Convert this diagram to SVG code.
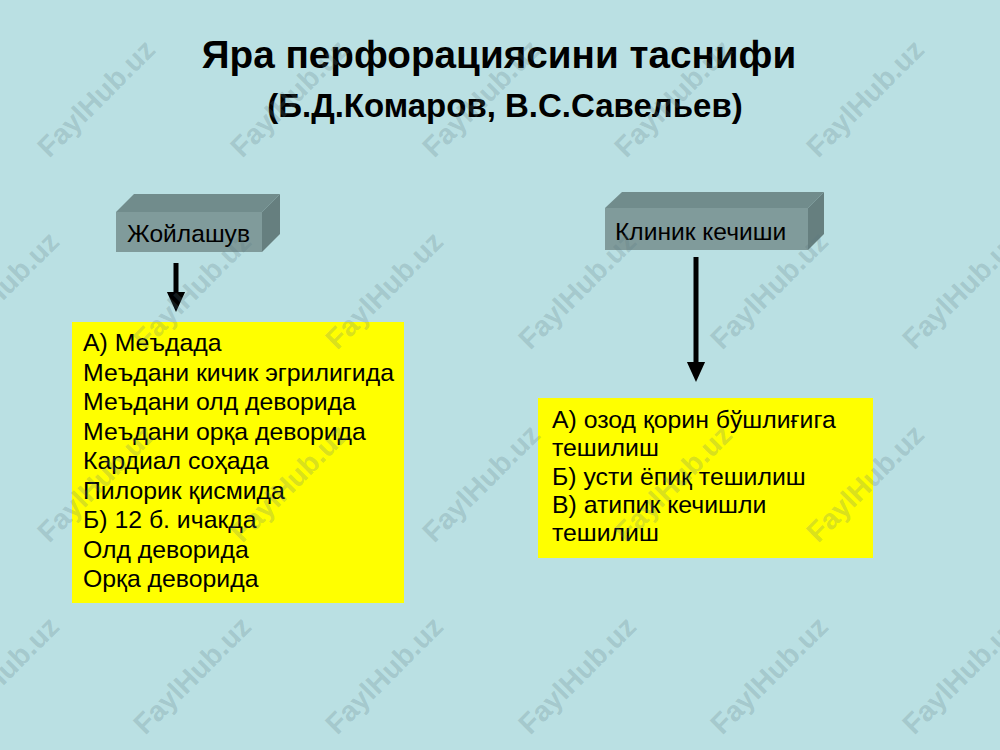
<svg xmlns="http://www.w3.org/2000/svg" width="1000" height="750" viewBox="0 0 1000 750">
<defs>
<style>
.title{font-family:"Liberation Sans",Arial,sans-serif;font-weight:bold;fill:#000;text-anchor:middle}
.lbl{font-family:"Liberation Sans",Arial,sans-serif;font-size:24.6px;fill:#000}
.body{font-family:"Liberation Sans",Arial,sans-serif;font-size:24.8px;fill:#000}
.front{fill:#809b9b}
.top{fill:#718c8c}
.side{fill:#667f7f}
.ybox{fill:#ffff00}
.wm{font-family:"Liberation Sans",Arial,sans-serif;font-weight:bold;font-size:28.5px;fill:#5a7a80;fill-opacity:0.24;text-anchor:middle}
.conn{stroke:#000;stroke-width:5;fill:none}
</style>
<marker id="ah" markerUnits="userSpaceOnUse" markerWidth="20" markerHeight="22" refX="0" refY="10" orient="auto" viewBox="0 0 22 20">
<path d="M0,0 L22,10 L0,20 Z" fill="#000"/>
</marker>
</defs>
<rect x="0" y="0" width="1000" height="750" fill="#bae0e3"/>

<g id="title">
<text class="title" x="499" y="68" font-size="38.7">Яра перфорациясини таснифи</text>
<text class="title" x="505" y="117" font-size="33">(Б.Д.Комаров, В.С.Савельев)</text>
</g>

<g id="node-joylashuv">
<polygon class="top" points="116,212 134,194 280,194 262,212"/>
<polygon class="side" points="262,212 280,194 280,234 262,252"/>
<rect class="front" x="116" y="212" width="146" height="40"/>
<text class="lbl" x="127" y="242">Жойлашув</text>
</g>

<g id="node-klinik">
<polygon class="top" points="605,208 622,192 824,192 808,208"/>
<polygon class="side" points="808,208 824,192 824,234 808,250"/>
<rect class="front" x="605" y="208" width="203" height="42"/>
<text class="lbl" x="615" y="240">Клиник кечиши</text>
</g>

<g id="node-left-list">
<rect class="ybox" x="72" y="322" width="332" height="281"/>
<text class="body" x="83" y="351">А) Меъдада</text>
<text class="body" x="83" y="380.5">Меъдани кичик эгрилигида</text>
<text class="body" x="83" y="410">Меъдани олд деворида</text>
<text class="body" x="83" y="439.5">Меъдани орқа деворида</text>
<text class="body" x="83" y="469">Кардиал соҳада</text>
<text class="body" x="83" y="498.5">Пилорик қисмида</text>
<text class="body" x="83" y="528">Б) 12 б. ичакда</text>
<text class="body" x="83" y="557.5">Олд деворида</text>
<text class="body" x="83" y="587">Орқа деворида</text>
</g>

<g id="node-right-list">
<rect class="ybox" x="538" y="398" width="335" height="160"/>
<text class="body" x="552" y="428">А) озод қорин бўшлиғига</text>
<text class="body" x="552" y="456">тешилиш</text>
<text class="body" x="552" y="484.5">Б) усти ёпиқ тешилиш</text>
<text class="body" x="552" y="513">В) атипик кечишли</text>
<text class="body" x="552" y="541">тешилиш</text>
</g>

<g id="connectors">
<line class="conn" x1="176" y1="263" x2="176" y2="292" marker-end="url(#ah)"/>
<line class="conn" x1="696" y1="257" x2="696" y2="362" marker-end="url(#ah)"/>
</g>

<g id="watermarks">
<text class="wm" transform="translate(96,98) rotate(-45)" y="10">FaylHub.uz</text>
<text class="wm" transform="translate(289,98) rotate(-45)" y="10">FaylHub.uz</text>
<text class="wm" transform="translate(481,98) rotate(-45)" y="10">FaylHub.uz</text>
<text class="wm" transform="translate(673,98) rotate(-45)" y="10">FaylHub.uz</text>
<text class="wm" transform="translate(865,98) rotate(-45)" y="10">FaylHub.uz</text>
<text class="wm" transform="translate(0,290) rotate(-45)" y="10">FaylHub.uz</text>
<text class="wm" transform="translate(192,290) rotate(-45)" y="10">FaylHub.uz</text>
<text class="wm" transform="translate(384,290) rotate(-45)" y="10">FaylHub.uz</text>
<text class="wm" transform="translate(577,290) rotate(-45)" y="10">FaylHub.uz</text>
<text class="wm" transform="translate(769,290) rotate(-45)" y="10">FaylHub.uz</text>
<text class="wm" transform="translate(961,290) rotate(-45)" y="10">FaylHub.uz</text>
<text class="wm" transform="translate(96,483) rotate(-45)" y="10">FaylHub.uz</text>
<text class="wm" transform="translate(289,483) rotate(-45)" y="10">FaylHub.uz</text>
<text class="wm" transform="translate(481,483) rotate(-45)" y="10">FaylHub.uz</text>
<text class="wm" transform="translate(673,483) rotate(-45)" y="10">FaylHub.uz</text>
<text class="wm" transform="translate(865,483) rotate(-45)" y="10">FaylHub.uz</text>
<text class="wm" transform="translate(0,675) rotate(-45)" y="10">FaylHub.uz</text>
<text class="wm" transform="translate(192,675) rotate(-45)" y="10">FaylHub.uz</text>
<text class="wm" transform="translate(384,675) rotate(-45)" y="10">FaylHub.uz</text>
<text class="wm" transform="translate(577,675) rotate(-45)" y="10">FaylHub.uz</text>
<text class="wm" transform="translate(769,675) rotate(-45)" y="10">FaylHub.uz</text>
<text class="wm" transform="translate(961,675) rotate(-45)" y="10">FaylHub.uz</text>
</g>
</svg>
